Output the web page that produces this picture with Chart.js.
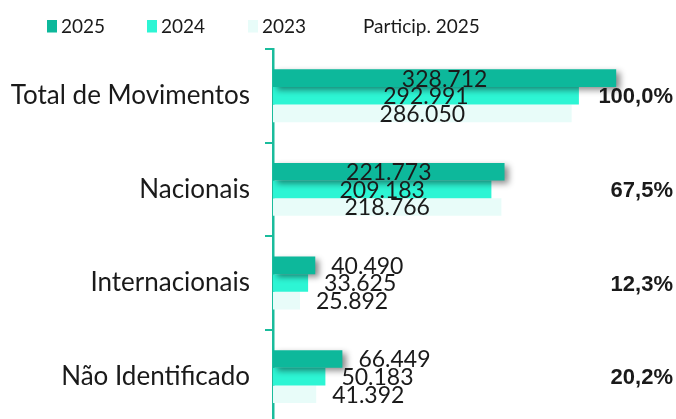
<!DOCTYPE html>
<html>
<head>
<meta charset="utf-8">
<script src="https://cdn.jsdelivr.net/npm/chart.js@4"></script>
<style>
html,body{margin:0;padding:0;background:#fff;overflow:hidden;width:676px;height:419px;}
canvas{display:block;}
</style>
</head>
<body>
<canvas id="c" width="676" height="454" style="width:676px;height:454px;"></canvas>
<script>
const categories = ["Total de Movimentos", "Nacionais", "Internacionais", "Não Identificado"];
const seriesLabels = ["2025", "2024", "2023"];
const values2025 = [328712, 221773, 40490, 66449];
const values2024 = [292991, 209183, 33625, 50183];
const values2023 = [286050, 218766, 25892, 41392];
const participHeader = "Particip. 2025";
const particip2025 = ["100,0%", "67,5%", "12,3%", "20,2%"];

const colors = ["#0DB89B", "#2DF5D4", "#E8FCF9"];
const axisColor = "#1ABC9C";
const textColor = "#1a1a1a";

function fmt(v){ return String(v).replace(/\B(?=(\d{3})+(?!\d))/g, "."); }

const shadowPlugin = {
  id: "shadow",
  beforeDatasetDraw(chart, args){
    if (args.index === 0){
      const ctx = chart.ctx;
      ctx.save();
      ctx.shadowColor = "rgba(0,0,0,0.45)";
      ctx.shadowBlur = 6;
      ctx.shadowOffsetX = 4;
      ctx.shadowOffsetY = 3;
    }
  },
  afterDatasetDraw(chart, args){
    if (args.index === 0) chart.ctx.restore();
  }
};

const labelPlugin = {
  id: "labels",
  afterDatasetsDraw(chart){
    const ctx = chart.ctx;
    ctx.save();
    ctx.font = "23px Lato";
    ctx.fillStyle = textColor;
    ctx.textBaseline = "middle";
    chart.data.datasets.forEach((ds, di) => {
      const meta = chart.getDatasetMeta(di);
      meta.data.forEach((bar, i) => {
        const txt = fmt(ds.data[i]);
        const w = ctx.measureText(txt).width;
        const bw = bar.x - bar.base;
        if (w + 6 <= bw){
          ctx.textAlign = "center";
          ctx.fillText(txt, (bar.x + bar.base) / 2, bar.y + 1);
        } else {
          ctx.textAlign = "left";
          ctx.fillText(txt, bar.x + 16, bar.y + 1);
        }
      });
    });
    const ys = chart.scales.y;
    ctx.font = "bold 22px 'Liberation Sans'";
    ctx.textAlign = "right";
    particip2025.forEach((p, i) => {
      ctx.fillText(p, chart.chartArea.right - 3, ys.getPixelForValue(i) + 1.5);
    });
    ctx.restore();
  }
};

const legendPlugin = {
  id: "customLegend",
  afterDraw(chart){
    const ctx = chart.ctx;
    ctx.save();
    ctx.font = "19px Lato";
    ctx.textBaseline = "middle";
    ctx.textAlign = "left";
    const xs = [47, 147, 248];
    chart.data.datasets.forEach((ds, i) => {
      ctx.fillStyle = ds.backgroundColor;
      ctx.fillRect(xs[i], 20, 10, 12.5);
      ctx.fillStyle = textColor;
      ctx.fillText(ds.label, xs[i] + 14, 26.5);
    });
    ctx.fillText(participHeader, 363, 26.5);
    ctx.restore();
  }
};

new Chart(document.getElementById("c"), {
  type: "bar",
  data: {
    labels: categories,
    datasets: [
      { label: seriesLabels[0], data: values2025, backgroundColor: colors[0] },
      { label: seriesLabels[1], data: values2024, backgroundColor: colors[1] },
      { label: seriesLabels[2], data: values2023, backgroundColor: colors[2] }
    ]
  },
  options: {
    indexAxis: "y",
    responsive: false,
    maintainAspectRatio: false,
    animation: false,
    devicePixelRatio: 1,
    layout: { padding: { top: 49, left: 0, right: 0, bottom: 0 } },
    datasets: { bar: { barPercentage: 1, categoryPercentage: 0.565 } },
    plugins: { legend: { display: false }, tooltip: { enabled: false } },
    scales: {
      x: { display: false, min: 0, max: 386000 },
      y: {
        afterFit(scale){ scale.width = 273; },
        grid: { drawOnChartArea: false, drawTicks: true, tickLength: 8, color: axisColor, lineWidth: 2 },
        border: { display: true, color: axisColor, width: 2.5 },
        ticks: { color: textColor, font: { family: "Lato", size: 26 }, padding: 15 }
      }
    }
  },
  plugins: [shadowPlugin, labelPlugin, legendPlugin]
});
</script>
</body>
</html>
